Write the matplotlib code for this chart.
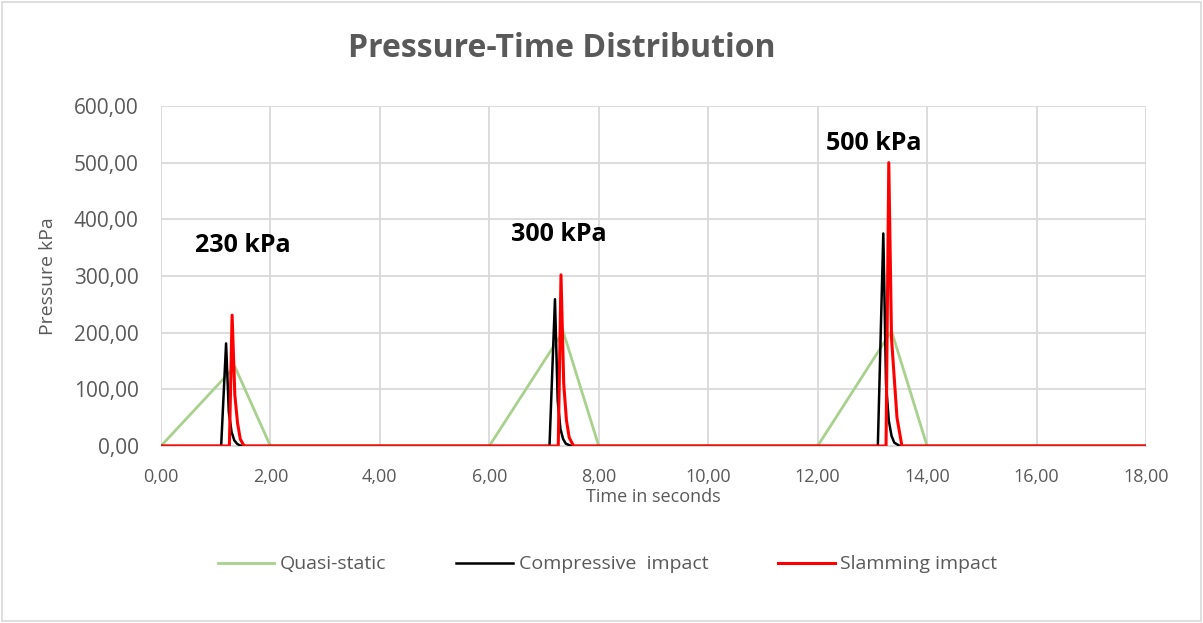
import matplotlib
matplotlib.use('Agg')
import matplotlib.pyplot as plt
from matplotlib.ticker import FuncFormatter, MultipleLocator
from matplotlib.patches import Rectangle

# Quasi-static load (triangles)
qs_time = [0.0, 1.35, 2.0, 6.0, 7.35, 8.0, 12.0, 13.35, 14.0, 18.0]
qs_pressure = [0, 140, 0, 0, 202, 0, 0, 203, 0, 0]

# Compressive impact (black spikes)
comp_time = [0.0, 1.10, 1.19, 1.24, 1.29, 1.34, 1.39, 1.44, 1.54,
             7.10, 7.20, 7.25, 7.30, 7.35, 7.40, 7.50,
             13.10, 13.20, 13.25, 13.30, 13.35, 13.40, 13.50, 18.0]
comp_pressure = [0, 0, 181, 60, 25, 10, 4, 1, 0,
                 0, 259, 80, 30, 12, 4, 0,
                 0, 375, 110, 45, 18, 6, 0, 0]

# Slamming impact (red spikes)
slam_time = [0.0, 1.25, 1.30, 1.35, 1.40, 1.45, 1.52,
             7.26, 7.31, 7.36, 7.41, 7.46, 7.54,
             13.25, 13.30, 13.35, 13.40, 13.45, 13.54, 18.0]
slam_pressure = [0, 0, 231, 90, 40, 12, 0,
                 0, 302, 110, 45, 15, 0,
                 0, 500, 190, 120, 50, 0, 0]

# Peak labels
peak_labels = ['230 kPa', '300 kPa', '500 kPa']
label_time = [1.50, 7.27, 13.02]
label_pressure = [353, 374, 534]

grey = '#595959'
grid_grey = '#d9d9d9'
font = ['Open Sans', 'DejaVu Sans']

fig = plt.figure(figsize=(12.03, 6.23), dpi=100)
ax = fig.add_axes([0.1338, 0.2841, 0.9526 - 0.1338, 0.8299 - 0.2841])

ax.plot(qs_time, qs_pressure, color='#a9d18e', lw=2.0, label='Quasi-static')
ax.plot(comp_time, comp_pressure, color='black', lw=1.8, label='Compressive  impact')
ax.plot(slam_time, slam_pressure, color='#ff0000', lw=2.2, label='Slamming impact')

for txt, t, p in zip(peak_labels, label_time, label_pressure):
    ax.text(t, p, txt, ha='center', va='center', fontsize=18,
            fontweight='bold', family=font, color='black')

ax.set_xlim(0, 18)
ax.set_ylim(0, 600)
ax.xaxis.set_major_locator(MultipleLocator(2))
ax.yaxis.set_major_locator(MultipleLocator(100))
comma = FuncFormatter(lambda v, pos: f'{v:.2f}'.replace('.', ','))
ax.xaxis.set_major_formatter(comma)
ax.yaxis.set_major_formatter(comma)
ax.tick_params(axis='x', length=0, colors=grey, pad=16)
ax.tick_params(axis='y', length=0, colors=grey, pad=16)
for lab in ax.get_xticklabels():
    lab.set_family(font)
    lab.set_fontsize(13)
for lab in ax.get_yticklabels():
    lab.set_family(font)
    lab.set_fontsize(15)

ax.grid(True, color=grid_grey, lw=1.3)
ax.set_axisbelow(True)
for s in ['top', 'right', 'left']:
    ax.spines[s].set_visible(False)
ax.spines['bottom'].set_color(grid_grey)

ax.set_xlabel('Time in seconds', family=font, fontsize=13, color=grey, labelpad=1)
ax.set_ylabel('Pressure kPa', family=font, fontsize=14, color=grey, labelpad=12)

fig.text(0.467, 0.922, 'Pressure-Time Distribution', ha='center', va='center',
         fontsize=23, fontweight='bold', family=font, color=grey)

leg = fig.legend(loc='center', bbox_to_anchor=(0.505, 0.094), ncol=3,
                 frameon=False, columnspacing=3.6, handlelength=2.9,
                 handletextpad=0.3, prop={'family': font, 'size': 14})
for t in leg.get_texts():
    t.set_color(grey)

fig.patches.append(Rectangle((0.002, 0.003), 0.996, 0.994, transform=fig.transFigure,
                             fill=False, edgecolor=grid_grey, lw=1.2))

fig.savefig('out.png', dpi=100)
